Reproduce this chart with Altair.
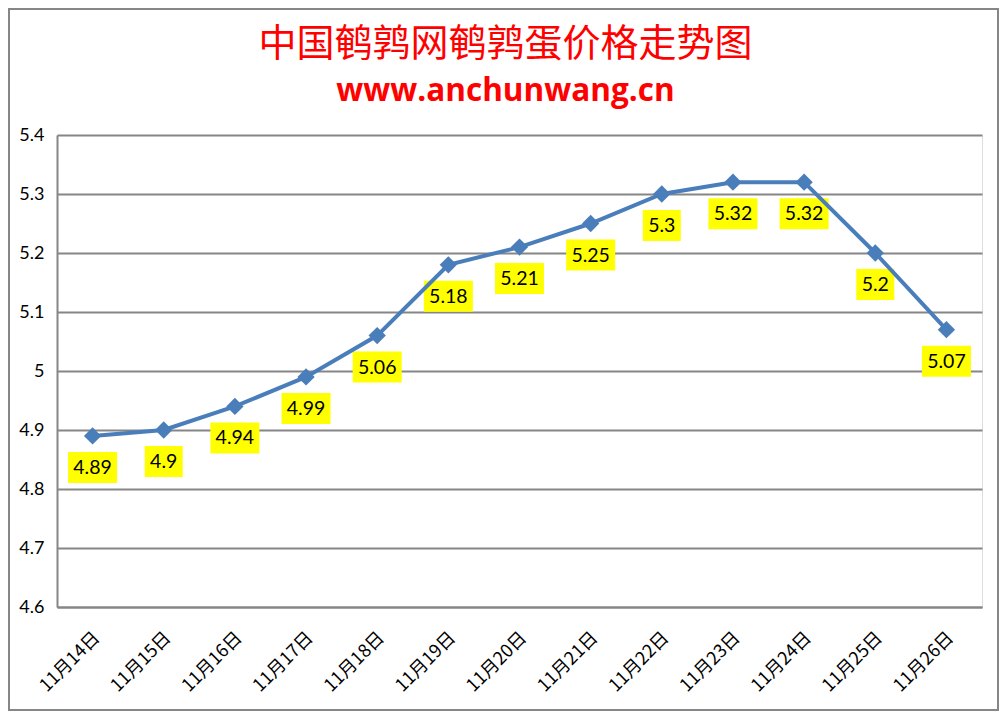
import altair as alt
import pandas as pd

dates = ["11月14日", "11月15日", "11月16日", "11月17日", "11月18日", "11月19日", "11月20日",
         "11月21日", "11月22日", "11月23日", "11月24日", "11月25日", "11月26日"]
prices = [4.89, 4.9, 4.94, 4.99, 5.06, 5.18, 5.21, 5.25, 5.3, 5.32, 5.32, 5.2, 5.07]
labels = ["4.89", "4.9", "4.94", "4.99", "5.06", "5.18", "5.21", "5.25", "5.3", "5.32", "5.32", "5.2", "5.07"]
y_ticks = [4.6, 4.7, 4.8, 4.9, 5.0, 5.1, 5.2, 5.3, 5.4]

df = pd.DataFrame({"date": dates, "price": prices, "label": labels})

W, H = 925, 472
PL, PT, PR, PB = 49, 127, 17, 104

x_enc = alt.X("date:N", sort=dates, title=None,
              scale=alt.Scale(type="point", padding=0.5),
              axis=alt.Axis(labelAngle=-45, labelAlign="right", labelBaseline="middle",
                            labelFont="Noto Sans CJK SC", labelFontSize=18, labelColor="black",
                            labelPadding=28, labelOffset=4, ticks=False,
                            domainColor="#868686", domainWidth=2, grid=False))
y_enc = alt.Y("price:Q", title=None,
              scale=alt.Scale(domain=[4.6, 5.4], nice=False, zero=False),
              axis=alt.Axis(values=y_ticks, format="~g", labelFont="Lato", labelFontSize=18,
                            labelColor="black", labelPadding=13, ticks=False,
                            domainColor="#868686", domainWidth=2,
                            grid=True, gridColor="#868686", gridWidth=2))

base = alt.Chart(df).encode(x=x_enc, y=y_enc)

boxes_long = base.transform_filter("length(datum.label) > 3").mark_rect(
    color="#FFFF00", width=49, height=31, yOffset=31.5)
boxes_short = base.transform_filter("length(datum.label) <= 3").mark_rect(
    color="#FFFF00", width=38, height=31, yOffset=31.5)
line = base.mark_line(color="#4A7EBB", strokeWidth=4)
pts = base.mark_point(shape="diamond", filled=True, size=300, color="#4A7EBB", opacity=1)
txt = base.mark_text(font="Lato", fontSize=19.5, color="black", yOffset=32,
                     baseline="middle").encode(text="label:N")

frame = alt.Chart(pd.DataFrame({"a": [0]})).mark_rect(
    fill=None, stroke="#868686", strokeWidth=2).encode(
    x=alt.value(-PL + 1), x2=alt.value(W + PR - 1),
    y=alt.value(-PT + 1), y2=alt.value(H + PB - 1))

chart = alt.layer(boxes_long, boxes_short, line, pts, txt, frame).properties(
    width=W, height=H,
    padding={"left": PL, "top": PT, "right": PR, "bottom": PB},
    autosize=alt.AutoSizeParams(type="none"),
    title=alt.TitleParams(text="中国鹌鹑网鹌鹑蛋价格走势图", subtitle="www.anchunwang.cn",
                          color="red", subtitleColor="red", font="Noto Sans CJK SC",
                          fontSize=38, fontWeight="normal", subtitleFont="Open Sans",
                          subtitleFontSize=31.5, subtitleFontWeight="bold", frame="group",
                          anchor="middle", dx=-14, offset=-99, subtitlePadding=12)
).configure_view(stroke=None).configure(background="white")

chart.save("out.html", embed_options={"renderer": "svg", "actions": False})
